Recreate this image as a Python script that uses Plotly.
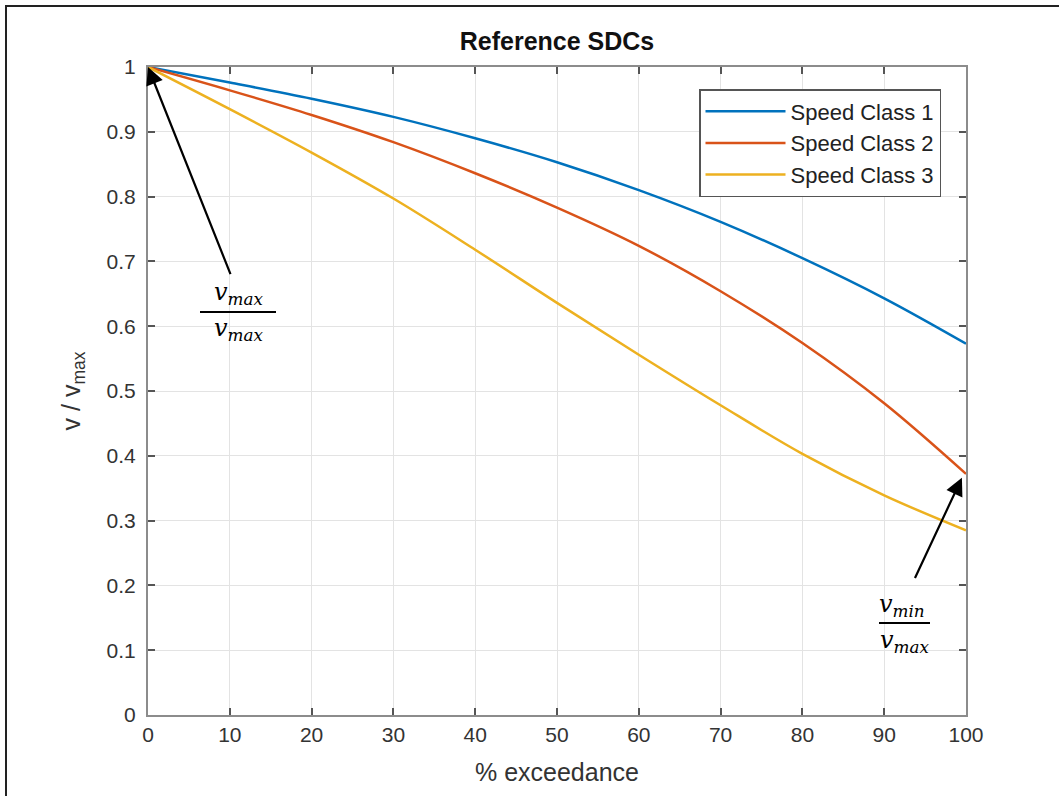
import plotly.graph_objects as go

# ---- data ----
exceedance = [0, 10, 20, 30, 40, 50, 60, 70, 80, 90, 100]
speed_class_1 = [1.0, 0.976, 0.951, 0.923, 0.890, 0.853, 0.810, 0.761, 0.705, 0.643, 0.573]
speed_class_2 = [1.0, 0.964, 0.926, 0.884, 0.836, 0.783, 0.724, 0.654, 0.574, 0.481, 0.372]
speed_class_3 = [1.0, 0.935, 0.868, 0.797, 0.718, 0.636, 0.556, 0.478, 0.403, 0.339, 0.285]
series_names = ["Speed Class 1", "Speed Class 2", "Speed Class 3"]
series_colors = ["#0072BD", "#D95319", "#EDB120"]
x_ticks = [0, 10, 20, 30, 40, 50, 60, 70, 80, 90, 100]
y_ticks = [0, 0.1, 0.2, 0.3, 0.4, 0.5, 0.6, 0.7, 0.8, 0.9, 1]
y_ticklabels = ["0", "0.1", "0.2", "0.3", "0.4", "0.5", "0.6", "0.7", "0.8", "0.9", "1"]

W, H = 1059, 796
L, R, T, B = 148, 93, 67, 81
PW, PH = W - L - R, H - T - B


def px(x):
    return (x - L) / PW


def py(y):
    return (H - B - y) / PH


fig = go.Figure()
for name, ys, col in zip(series_names, [speed_class_1, speed_class_2, speed_class_3], series_colors):
    fig.add_trace(go.Scatter(x=exceedance, y=ys, mode="lines", name=name,
                             line=dict(color=col, width=2.5, shape="spline", smoothing=1.0)))

axis_col = "#8c8c8c"
FONT = "Liberation Sans, Arial, sans-serif"
tick_font = dict(family=FONT, size=21, color="#333333")
common = dict(showline=True, linecolor=axis_col, linewidth=2, mirror="ticks",
              ticks="inside", ticklen=7, tickwidth=1.5, tickcolor="#555555",
              showgrid=True, gridcolor="#e3e3e3", gridwidth=1, zeroline=False,
              tickfont=tick_font)

fig.update_xaxes(range=[0, 100], tickvals=x_ticks, **common,
                 title=dict(text="% exceedance", standoff=18,
                            font=dict(family=FONT, size=25, color="#333333")))
fig.update_yaxes(range=[0, 1], tickvals=y_ticks, ticktext=y_ticklabels, ticklabelstandoff=6, **common,
                 title=dict(text="v / v<sub>max</sub>", standoff=19,
                            font=dict(family=FONT, size=25, color="#333333")))

fig.update_layout(
    width=W, height=H,
    margin=dict(l=L, r=R, t=T, b=B),
    paper_bgcolor="white", plot_bgcolor="white",
    title=dict(text="<b>Reference SDCs</b>", x=0.5, xref="paper", xanchor="center",
               y=1 - 41 / H, yanchor="middle",
               font=dict(family=FONT, size=25, color="#111111")),
    legend=dict(x=px(941), y=py(89), xanchor="right", yanchor="top",
                bgcolor="white", bordercolor="#555555", borderwidth=1.5,
                font=dict(family=FONT, size=22, color="#222222"),
                itemwidth=80, tracegroupgap=0),
    showlegend=True,
)

frac_font = dict(family="DejaVu Serif, serif", size=24, color="black")

# fraction 1: v_max / v_max, arrow to the curves' start (0, 1)
fig.add_annotation(x=0, y=1, xref="x", yref="y", text="<i>v</i><sub><i>max</i></sub>",
                   showarrow=True, ax=90, ay=226, arrowhead=2, arrowsize=1.6, arrowwidth=2.2,
                   arrowcolor="black", standoff=0, startstandoff=2, font=frac_font)
fig.add_annotation(x=px(238), y=py(312), xref="paper", yref="paper",
                   text="<i>v</i><sub><i>max</i></sub>", showarrow=False,
                   xanchor="center", yanchor="top", font=frac_font)
fig.add_shape(type="line", xref="paper", yref="paper", x0=px(200), x1=px(276),
              y0=py(312), y1=py(312), line=dict(color="black", width=2))

# fraction 2: v_min / v_max, arrow to the end of speed class 2
fig.add_annotation(x=99.5, y=0.366, xref="x", yref="y", text="<i>v</i><sub><i>min</i></sub>",
                   showarrow=True, ax=-60, ay=128, arrowhead=2, arrowsize=1.6, arrowwidth=2.2,
                   arrowcolor="black", standoff=0, startstandoff=12, font=frac_font)
fig.add_annotation(x=px(904), y=py(624), xref="paper", yref="paper",
                   text="<i>v</i><sub><i>max</i></sub>", showarrow=False,
                   xanchor="center", yanchor="top", font=frac_font)
fig.add_shape(type="line", xref="paper", yref="paper", x0=px(879), x1=px(930),
              y0=py(623), y1=py(623), line=dict(color="black", width=2))

# outer frame lines (top and left)
fig.add_shape(type="line", xref="paper", yref="paper", x0=px(5), x1=px(1059),
              y0=py(6), y1=py(6), line=dict(color="#222222", width=2))
fig.add_shape(type="line", xref="paper", yref="paper", x0=px(6), x1=px(6),
              y0=py(6), y1=py(796), line=dict(color="#222222", width=2))

fig.write_html("out.html", config={"displayModeBar": False},
               post_script="document.body.style.margin='0';")
